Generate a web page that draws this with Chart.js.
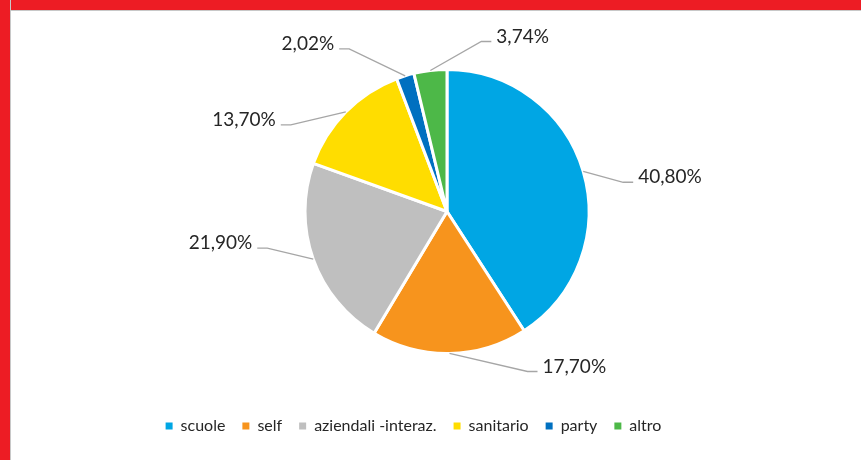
<!DOCTYPE html>
<html>
<head>
<meta charset="utf-8">
<script src="https://cdn.jsdelivr.net/npm/chart.js@4"></script>
<style>
  html, body { margin: 0; padding: 0; background: #fff; }
  #wrap { position: relative; width: 861px; height: 460px; overflow: hidden; }
  #topBand { position: absolute; left: 0; top: 0; width: 861px; height: 10px; background: #ED1C24; border-bottom: 1px solid #c8c8c8; }
  #leftBand { position: absolute; left: 0; top: 0; width: 10px; height: 460px; background: #ED1C24; border-right: 1px solid #c8c8c8; }
  canvas { position: absolute; left: 0; top: 0; }
</style>
</head>
<body>
<div id="wrap">
  <canvas id="pieChart" width="861" height="460"></canvas>
  <div id="topBand"></div>
  <div id="leftBand"></div>
</div>
<script>
let categories = ['scuole', 'self', 'aziendali -interaz.', 'sanitario', 'party', 'altro'];
let shares = [40.80, 17.70, 21.90, 13.70, 2.02, 3.74];
let sliceColors = ['#00A6E4', '#F7941D', '#BFBFBF', '#FFDD00', '#0070C0', '#4DB848'];

// where each label's elbow sits, relative to the slice edge (best fit, like excel)
let labelOffsets = [[40, 11], [78, 18], [-46, -11], [-55, 13], [-56, -27], [51, -29]];

let ctxPie = document.getElementById('pieChart').getContext('2d');

function formatPct(v)
  {
    return v.toFixed(2).replace('.', ',') + '%';
  }

// move the pie to the right of the legend centre
const shiftPie = {
  id: 'shiftPie',
  afterLayout(chart)
    {
      chart.chartArea.left += 67;
      chart.chartArea.width = chart.chartArea.right - chart.chartArea.left;
    }
};

const leaderLabels = {
  id: 'leaderLabels',
  afterDatasetsDraw(chart)
    {
      const ctx = chart.ctx;
      const arcs = chart.getDatasetMeta(0).data;
      ctx.save();
      ctx.font = '19px Lato';
      ctx.textBaseline = 'middle';
      arcs.forEach(function(arc, i)
        {
          const p = arc.getProps(['x', 'y', 'startAngle', 'endAngle', 'outerRadius'], true);
          const mid = (p.startAngle + p.endAngle) / 2;
          const ex = p.x + Math.cos(mid) * p.outerRadius;
          const ey = p.y + Math.sin(mid) * p.outerRadius;
          const bx = ex + labelOffsets[i][0];
          const by = ey + labelOffsets[i][1];
          const dir = labelOffsets[i][0] >= 0 ? 1 : -1;
          const hx = bx + dir * 10;

          ctx.strokeStyle = '#A6A6A6';
          ctx.lineWidth = 1.3;
          ctx.beginPath();
          ctx.moveTo(ex, ey);
          ctx.lineTo(bx, by);
          ctx.lineTo(hx, by);
          ctx.stroke();

          ctx.fillStyle = '#262626';
          ctx.textAlign = dir > 0 ? 'left' : 'right';
          ctx.fillText(formatPct(shares[i]), hx + dir * 5, by - 5);
        });
      ctx.restore();
    }
};

let pieChart = new Chart(ctxPie, {
  type: 'pie',
  data: {
    labels: categories,
    datasets: [{
      data: shares,
      backgroundColor: sliceColors,
      borderColor: '#ffffff',
      borderWidth: 3,
      radius: 142
    }]
  },
  options: {
    responsive: false,
    animation: false,
    layout: {
      padding: { top: 22, bottom: 16, left: 0, right: 34 }
    },
    plugins: {
      legend: {
        position: 'bottom',
        labels: {
          boxWidth: 7,
          boxHeight: 7,
          padding: 17,
          color: '#262626',
          font: { family: 'Lato', size: 16 },
          generateLabels(chart)
            {
              return Chart.controllers.pie.overrides.plugins.legend.labels.generateLabels(chart).map(function(item)
                {
                  item.lineWidth = 0;
                  item.strokeStyle = item.fillStyle;
                  return item;
                });
            }
        }
      },
      tooltip: { enabled: false }
    }
  },
  plugins: [shiftPie, leaderLabels]
});
</script>
</body>
</html>
